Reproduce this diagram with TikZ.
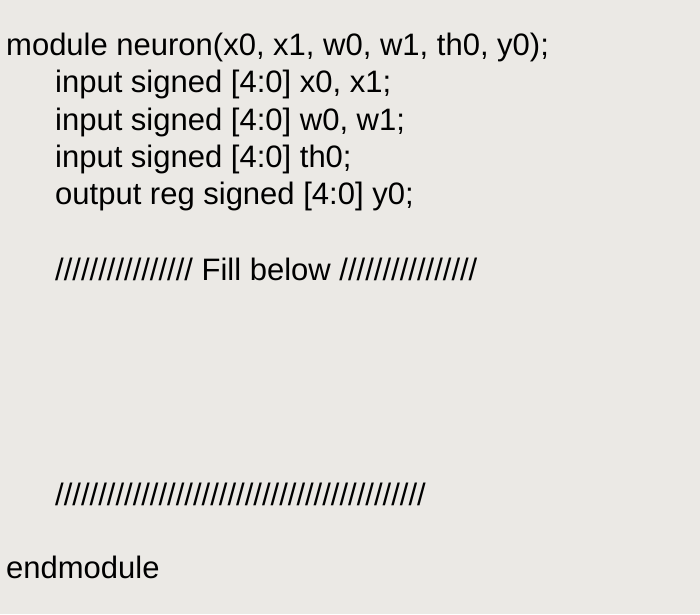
\documentclass[tikz,border=0pt]{standalone}
\usepackage{fontspec}
\setmainfont{Liberation Sans}
\definecolor{bg}{HTML}{EBE9E5}
\begin{document}
\begin{tikzpicture}[x=1pt,y=-1pt,
  code/.style={anchor=base west,inner sep=0pt,font=\fontsize{31}{37}\selectfont}]
\fill[bg] (0,0) rectangle (700,614);
\useasboundingbox (0,0) rectangle (700,614);
\node[code] (l1) at (6,55) {module neuron(x0, x1, w0, w1, th0, y0);};
\node[code] (l2) at (55,92) {input signed [4:0] x0, x1;};
\node[code] (l3) at (55,130) {input signed [4:0] w0, w1;};
\node[code] (l4) at (55,167) {input signed [4:0] th0;};
\node[code] (l5) at (55,204) {output reg signed [4:0] y0;};
\node[code] (l6) at (55,280) {//////////////// Fill below ////////////////};
\node[code] (l7) at (55,505) {///////////////////////////////////////////};
\node[code] (l8) at (6,578) {endmodule};
\end{tikzpicture}
\end{document}
